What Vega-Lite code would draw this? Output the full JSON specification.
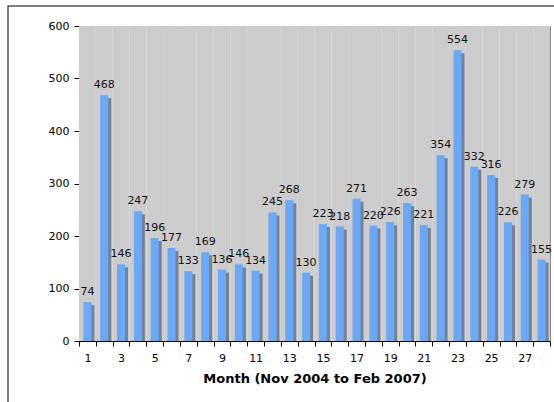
{
  "$schema": "https://vega.github.io/schema/vega-lite/v6.json",
  "width": 554,
  "height": 402,
  "autosize": {"type": "none"},
  "padding": {"left": 8, "top": 6, "right": 0, "bottom": 0},
  "background": "white",
  "config": {
    "view": {"stroke": "#555555", "strokeWidth": 1.5, "fill": "white"},
    "font": "DejaVu Sans"
  },
  "data": {
    "values": [
      {"month": 1, "n": 74}, {"month": 2, "n": 468}, {"month": 3, "n": 146}, {"month": 4, "n": 247},
      {"month": 5, "n": 196}, {"month": 6, "n": 177}, {"month": 7, "n": 133}, {"month": 8, "n": 169},
      {"month": 9, "n": 136}, {"month": 10, "n": 146}, {"month": 11, "n": 134}, {"month": 12, "n": 245},
      {"month": 13, "n": 268}, {"month": 14, "n": 130}, {"month": 15, "n": 223}, {"month": 16, "n": 218},
      {"month": 17, "n": 271}, {"month": 18, "n": 220}, {"month": 19, "n": 226}, {"month": 20, "n": 263},
      {"month": 21, "n": 221}, {"month": 22, "n": 354}, {"month": 23, "n": 554}, {"month": 24, "n": 332},
      {"month": 25, "n": 316}, {"month": 26, "n": 226}, {"month": 27, "n": 279}, {"month": 28, "n": 155}
    ]
  },
  "resolve": {"axis": {"x": "independent", "y": "independent"}},
  "layer": [
    {
      "mark": {"type": "bar", "color": "#cccccc", "width": {"band": 1}},
      "encoding": {
        "x": {
          "field": "month", "type": "ordinal",
          "scale": {"range": [71, 542], "paddingInner": 0, "paddingOuter": 0},
          "axis": {
            "orient": "bottom", "offset": -67, "tickBand": "extent", "tickSize": 5,
            "labelAngle": 0, "labelExpr": "datum.value % 2 == 1 ? datum.label : ''",
            "labelFontSize": 11, "labelColor": "#000000", "labelPadding": 6,
            "domainColor": "#000000", "tickColor": "#000000", "grid": false,
            "title": "Month (Nov 2004 to Feb 2007)", "titleFontSize": 13, "titleFontWeight": "bold",
            "titleColor": "#000000", "titlePadding": 9
          }
        },
        "y": {
          "datum": 600, "type": "quantitative",
          "scale": {"domain": [0, 600], "range": [335, 20], "nice": false},
          "axis": {
            "orient": "left", "offset": -71, "values": [0, 100, 200, 300, 400, 500, 600],
            "tickSize": 5, "labelPadding": 5, "labelFontSize": 11, "labelColor": "#000000",
            "domainColor": "#000000", "tickColor": "#000000", "grid": false, "title": null
          }
        },
        "y2": {"datum": 0}
      }
    },
    {
      "mark": {"type": "bar", "color": "#808080", "width": 8, "xOffset": 3, "yOffset": 3},
      "encoding": {
        "x": {
          "field": "month", "type": "ordinal",
          "axis": {"orient": "top", "offset": -20, "labels": false, "ticks": false, "domainColor": "#888888", "grid": false, "title": null}
        },
        "y": {
          "field": "n", "type": "quantitative",
          "axis": {"orient": "right", "offset": -12, "labels": false, "ticks": false, "domainColor": "#888888", "grid": false, "title": null}
        },
        "y2": {"datum": 0}
      }
    },
    {
      "mark": {"type": "bar", "color": "#66aaff", "width": 8},
      "encoding": {
        "x": {"field": "month", "type": "ordinal", "axis": null},
        "y": {"field": "n", "type": "quantitative", "axis": null}
      }
    },
    {
      "mark": {"type": "text", "dy": -7, "baseline": "alphabetic", "fontSize": 11, "color": "#111111"},
      "encoding": {
        "x": {"field": "month", "type": "ordinal", "axis": null},
        "y": {"field": "n", "type": "quantitative", "axis": null},
        "text": {"field": "n", "type": "quantitative"}
      }
    }
  ]
}
